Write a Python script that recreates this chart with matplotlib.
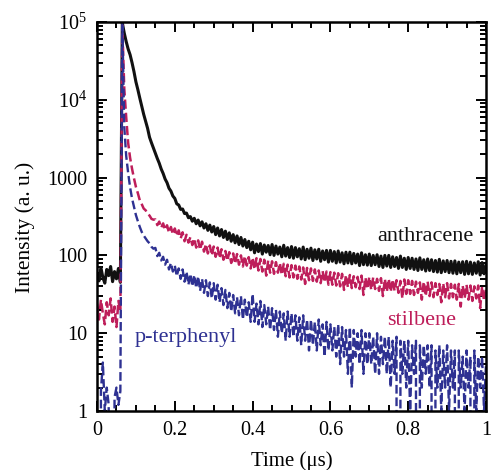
import numpy as np
import matplotlib.pyplot as plt
from matplotlib.ticker import FixedLocator, MultipleLocator, LogLocator, NullFormatter

# sampling grid of the decay traces (us), 5 ns steps
time_us = np.arange(201) * 0.005

anthracene = [
    58, 47, 70, 52, 44, 66, 55, 72, 46, 62,
    50, 68, 45, 98000, 72000, 56000, 45000, 38000, 30000, 23000,
    17000, 13500, 10500, 8300, 6500, 5300, 4300, 3300, 2800, 2400,
    2050, 1760, 1530, 1290, 1130, 960, 860, 730, 670, 580,
    540, 460, 445, 390, 395, 345, 350, 305, 315, 275,
    300, 255, 285, 240, 270, 225, 255, 210, 245, 200,
    235, 185, 225, 178, 215, 170, 205, 160, 195, 152,
    185, 145, 178, 138, 170, 132, 160, 126, 152, 118,
    148, 108, 140, 112, 142, 104, 136, 110, 134, 102,
    138, 100, 132, 104, 128, 96, 135, 98, 126, 94,
    130, 92, 126, 96, 122, 90, 128, 88, 120, 92,
    124, 86, 118, 90, 120, 84, 114, 88, 116, 82,
    116, 84, 112, 80, 114, 82, 108, 78, 110, 80,
    110, 78, 106, 80, 104, 74, 108, 76, 102, 75,
    104, 74, 100, 76, 102, 72, 98, 70, 100, 73,
    100, 70, 96, 72, 94, 68, 98, 70, 92, 66,
    94, 68, 92, 66, 90, 64, 93, 66, 88, 63,
    90, 64, 88, 62, 86, 61, 89, 60, 85, 62,
    86, 60, 84, 59, 85, 58, 82, 60, 83, 57,
    84, 58, 82, 57, 80, 59, 83, 56, 81, 58, 76,
]

stilbene = [
    24, 15, 27, 18, 13, 25, 17, 28, 14, 22,
    12, 26, 19, 90000, 14000, 6000, 2800, 1800, 1300, 980,
    760, 630, 510, 455, 400, 380, 340, 325, 295, 288,
    290, 245, 272, 226, 258, 212, 244, 196, 232, 186,
    222, 178, 210, 165, 198, 152, 184, 146, 172, 136,
    165, 126, 156, 118, 150, 112, 140, 106, 134, 100,
    130, 96, 126, 92, 120, 88, 114, 85, 110, 80,
    106, 78, 104, 76, 100, 72, 98, 74, 95, 68,
    94, 66, 92, 64, 90, 62, 88, 55, 86, 60,
    84, 58, 82, 60, 80, 56, 78, 54, 76, 52,
    75, 52, 74, 50, 72, 49, 70, 43, 69, 48,
    68, 47, 66, 46, 64, 44, 63, 45, 62, 42,
    61, 42, 60, 41, 59, 40, 58, 36, 56, 39,
    56, 38, 54, 39, 53, 37, 55, 31, 52, 37,
    53, 36, 52, 37, 50, 35, 51, 30, 50, 34,
    50, 34, 49, 35, 48, 33, 47, 28, 49, 32,
    48, 32, 47, 31, 46, 33, 45, 27, 46, 30,
    46, 30, 45, 29, 44, 31, 43, 25, 44, 29,
    44, 28, 43, 29, 42, 27, 43, 22, 41, 28,
    42, 27, 41, 26, 40, 28, 41, 21, 40, 26, 38,
]

# zero counts fall below the axis
p_terphenyl = [
    0, 0, 1.8, 4.2, 1, 2, 1.2, 0, 0, 1.5,
    2, 1.2, 1.8, 100000, 4500, 1900, 1150, 750, 540, 420,
    330, 275, 232, 200, 180, 165, 152, 143, 129, 122,
    125, 98, 108, 86, 96, 76, 88, 66, 80, 62,
    74, 54, 68, 50, 66, 46, 62, 42, 58, 40,
    56, 38, 54, 35, 50, 33, 48, 30, 45, 28,
    44, 27, 42, 25, 38, 23, 36, 21, 33, 19,
    31, 18, 29, 17, 30, 15, 27, 16, 25, 14,
    32, 14, 24, 13, 26, 12, 23, 13, 22, 11,
    21, 11, 20, 9, 19, 10, 18, 8, 19, 9,
    18, 9, 17, 8, 16, 7, 17, 8, 15, 6,
    15, 7, 14, 6, 15, 7, 13, 5, 14, 6,
    13, 6, 12, 5, 13, 4, 12, 5, 11, 3,
    12, 2, 11, 5, 10, 4, 11, 3, 10, 4,
    10, 4, 9, 3, 10, 3, 9, 4, 9, 3,
    9, 2, 8, 3, 9, 0, 8, 3, 8, 2,
    8, 1, 7, 3, 8, 0, 7, 2, 7, 3,
    7, 2, 7, 0, 6, 2, 7, 1, 6, 2,
    7, 1, 6, 2, 6, 0, 6, 2, 5, 1,
    6, 2, 5, 0, 6, 1, 5, 2, 5, 1, 4,
]

y_ticks = [1, 10, 100, 1000, 1e4, 1e5]
y_tick_labels = ["1", "10", "100", "1000", "$10^4$", "$10^5$"]
x_ticks = [0, 0.2, 0.4, 0.6, 0.8, 1.0]
x_tick_labels = ["0", "0.2", "0.4", "0.6", "0.8", "1"]

plt.rcParams["font.family"] = ["Liberation Serif", "DejaVu Serif"]
plt.rcParams["mathtext.fontset"] = "custom"
plt.rcParams["mathtext.rm"] = "Liberation Serif"
plt.rcParams["mathtext.it"] = "Liberation Serif:italic"

fig = plt.figure(figsize=(4.91, 4.70), dpi=100)
ax = fig.add_axes([0.1976, 0.1255, 0.7922, 0.8277])

ax.plot(time_us, anthracene, color="#111111", lw=2.2)
ax.plot(time_us, stilbene, color="#BE1E5A", lw=1.8, ls="--")
ax.plot(time_us, p_terphenyl, color="#2E3192", lw=1.7, ls="--")

ax.set_yscale("log")
ax.set_xlim(0, 1)
ax.set_ylim(1, 1e5)

ax.yaxis.set_major_locator(FixedLocator(y_ticks))
ax.set_yticklabels(y_tick_labels)
ax.yaxis.set_minor_locator(LogLocator(base=10, subs=np.arange(2, 10)))
ax.yaxis.set_minor_formatter(NullFormatter())
ax.set_xticks(x_ticks)
ax.set_xticklabels(x_tick_labels)
ax.xaxis.set_minor_locator(MultipleLocator(0.05))

ax.tick_params(which="both", direction="in", top=True, right=True,
               labelsize=14.5, width=1.4)
ax.tick_params(which="major", length=7, pad=7)
ax.tick_params(which="minor", length=4)
for s in ax.spines.values():
    s.set_linewidth(1.8)

ax.set_xlabel("Time (μs)", fontsize=15, labelpad=8)
ax.set_ylabel("Intensity (a. u.)", fontsize=15.5)
ax.yaxis.set_label_coords(-0.159, 0.473)

ax.text(0.843, 173, "anthracene", color="#111111", fontsize=16,
        ha="center", va="center")
ax.text(0.835, 14.4, "stilbene", color="#BE1E5A", fontsize=16,
        ha="center", va="center")
ax.text(0.229, 8.9, "p-terphenyl", color="#2E3192", fontsize=16,
        ha="center", va="center")

fig.savefig("out.png", dpi=100)
